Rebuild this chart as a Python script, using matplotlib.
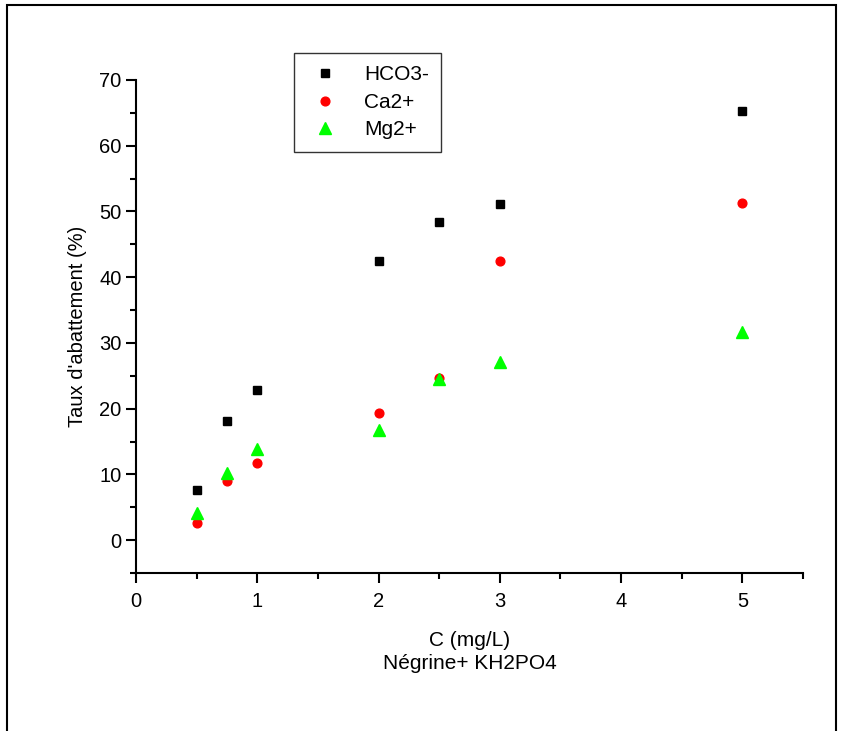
import matplotlib.pyplot as plt
from matplotlib.patches import Rectangle
from matplotlib.ticker import MultipleLocator

plt.rcParams['font.family'] = ['Liberation Sans', 'DejaVu Sans']

# concentrations (mg/L)
conc = [0.5, 0.75, 1.0, 2.0, 2.5, 3.0, 5.0]
# taux d'abattement (%)
hco3 = [7.6, 18.1, 22.9, 42.5, 48.4, 51.1, 65.3]
ca = [2.6, 9.0, 11.7, 19.4, 24.6, 42.4, 51.3]
mg = [4.2, 10.2, 13.8, 16.8, 24.5, 27.1, 31.7]

fig = plt.figure(figsize=(8.42, 7.31), dpi=100)
ax = fig.add_axes([0.1615, 0.2161, 0.7922, 0.6745])

ax.plot(conc, hco3, 's', color='black', ms=5.5, label='HCO3-')
ax.plot(conc, ca, 'o', color='red', ms=6.3, label='Ca2+')
ax.plot(conc, mg, '^', color='#00ff00', ms=8, label='Mg2+')

ax.set_xlim(0, 5.5)
ax.set_ylim(-5, 70)
ax.xaxis.set_major_locator(MultipleLocator(1))
ax.xaxis.set_minor_locator(MultipleLocator(0.5))
ax.yaxis.set_major_locator(MultipleLocator(10))
ax.yaxis.set_minor_locator(MultipleLocator(5))

for s in ['top', 'right']:
    ax.spines[s].set_visible(False)
for s in ['left', 'bottom']:
    ax.spines[s].set_linewidth(1.5)
ax.tick_params(which='major', direction='out', length=7, width=1.5, labelsize=14.5)
ax.tick_params(axis='x', which='major', pad=7)
ax.tick_params(which='minor', direction='out', length=4, width=1.5)

ax.set_xlabel('C (mg/L)\nNégrine+ KH2PO4', fontsize=15, linespacing=1.3, labelpad=14)
ax.set_ylabel("Taux d'abattement (%)", fontsize=14.5, labelpad=9)

leg = fig.legend(loc='upper left', bbox_to_anchor=(294 / 842, 1 - 53 / 731), fontsize=15,
                 frameon=True, fancybox=False, borderpad=0.6, labelspacing=0.4,
                 handletextpad=0.95, borderaxespad=0, handlelength=1.8)
leg.get_frame().set_edgecolor('black')
leg.get_frame().set_linewidth(1.0)

# outer frame of the original figure
fig.patches.append(Rectangle((7 / 842, -0.1), 829 / 842, 1.1 - 5 / 731,
                             transform=fig.transFigure, fill=False,
                             edgecolor='black', linewidth=1.5))

fig.savefig('out.png', dpi=100)
